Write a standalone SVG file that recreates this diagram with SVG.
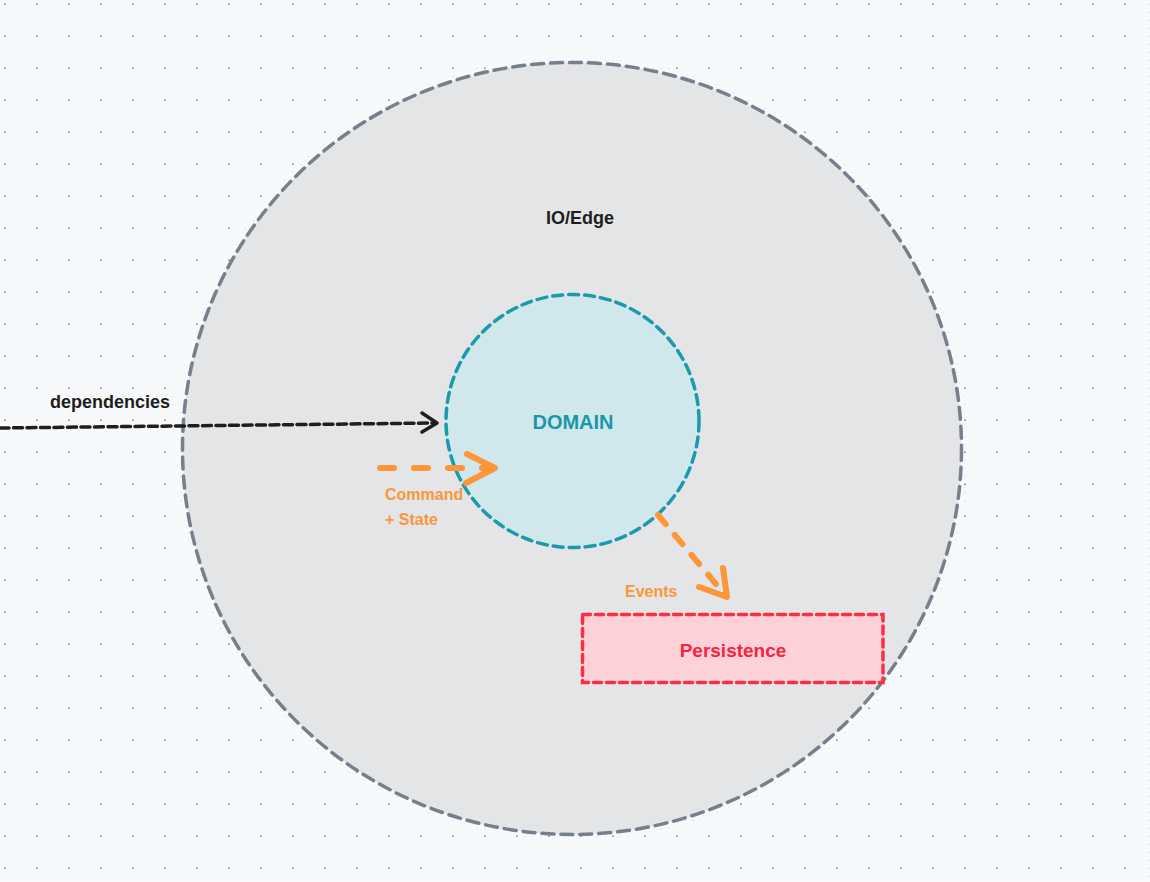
<svg xmlns="http://www.w3.org/2000/svg" width="1150" height="882" viewBox="0 0 1150 882">
  <defs>
    <pattern id="grid" x="0" y="0" width="32" height="32" patternUnits="userSpaceOnUse">
      <g fill="#e2e5ea">
        <rect x="12" y="4" width="2" height="1"/><rect x="20" y="4" width="2" height="1"/><rect x="28" y="4" width="2" height="1"/>
        <rect x="4" y="12" width="2" height="1"/><rect x="12" y="12" width="2" height="1"/><rect x="20" y="12" width="2" height="1"/><rect x="28" y="12" width="2" height="1"/>
        <rect x="4" y="20" width="2" height="1"/><rect x="12" y="20" width="2" height="1"/><rect x="20" y="20" width="2" height="1"/><rect x="28" y="20" width="2" height="1"/>
        <rect x="4" y="28" width="2" height="1"/><rect x="12" y="28" width="2" height="1"/><rect x="20" y="28" width="2" height="1"/><rect x="28" y="28" width="2" height="1"/>
      </g>
      <rect x="4" y="3.5" width="2" height="1.5" fill="#9aa0a8"/>
    </pattern>
    <style>
      .txt { font-family: "Liberation Sans", "Noto Sans", sans-serif; }
      .dark { fill: #1e1e1e; font-size: 18px; font-weight: bold; }
      .orange { fill: #fd9638; font-size: 16px; font-weight: bold; }
      .dash-black { fill: none; stroke: #1e1e1e; stroke-width: 3.5; stroke-linecap: round; stroke-linejoin: round; }
      .dash-orange { fill: none; stroke: #fd9638; stroke-width: 6; stroke-linecap: round; stroke-linejoin: round; }
    </style>
  </defs>

  <rect width="1150" height="882" fill="#f8f9fb"/>
  <rect width="1150" height="882" fill="url(#grid)"/>

  <g id="io-edge">
    <ellipse cx="572" cy="448.5" rx="389.5" ry="386" fill="#e4e5e7" stroke="#767f8c" stroke-width="3.5" stroke-dasharray="12 7" stroke-linecap="round"/>
    <text class="txt dark" x="580" y="224" text-anchor="middle">IO/Edge</text>
  </g>

  <g id="domain">
    <circle cx="572.5" cy="421" r="126.5" fill="#d0e8ec" stroke="#1a9aab" stroke-width="3.5" stroke-dasharray="10 6" stroke-linecap="round"/>
    <text class="txt" x="573" y="429" text-anchor="middle" font-size="20" font-weight="bold" fill="#1a98a8">DOMAIN</text>
  </g>

  <g id="persistence">
    <rect x="582.5" y="614.5" width="300.5" height="68" fill="#fcd2d8" stroke="#ff2c46" stroke-width="3.5" stroke-dasharray="8 5" stroke-linecap="round"/>
    <text class="txt" x="733" y="657" text-anchor="middle" font-size="19" font-weight="bold" fill="#f7243f">Persistence</text>
  </g>

  <g id="connectors">
    <g id="dependencies-arrow">
      <path class="dash-black" d="M0 428 L436 423" stroke-dasharray="9 4.5" stroke-linecap="butt"/>
      <path class="dash-black" d="M422 413 L437 423 L422 432"/>
      <text class="txt dark" x="50" y="408">dependencies</text>
    </g>
    <g id="command-arrow">
      <path class="dash-orange" d="M380 468 L494 468" stroke-dasharray="14 20"/>
      <path class="dash-orange" d="M467 454 L495 468 L466 483"/>
      <text class="txt orange" x="385" y="500">Command</text>
      <text class="txt orange" x="385" y="525">+ State</text>
    </g>
    <g id="events-arrow">
      <path class="dash-orange" d="M658 515 L726 596" stroke-dasharray="12 14"/>
      <path class="dash-orange" d="M723 568 L727 597 L699 587"/>
      <text class="txt orange" x="625" y="597">Events</text>
    </g>
  </g>
</svg>
